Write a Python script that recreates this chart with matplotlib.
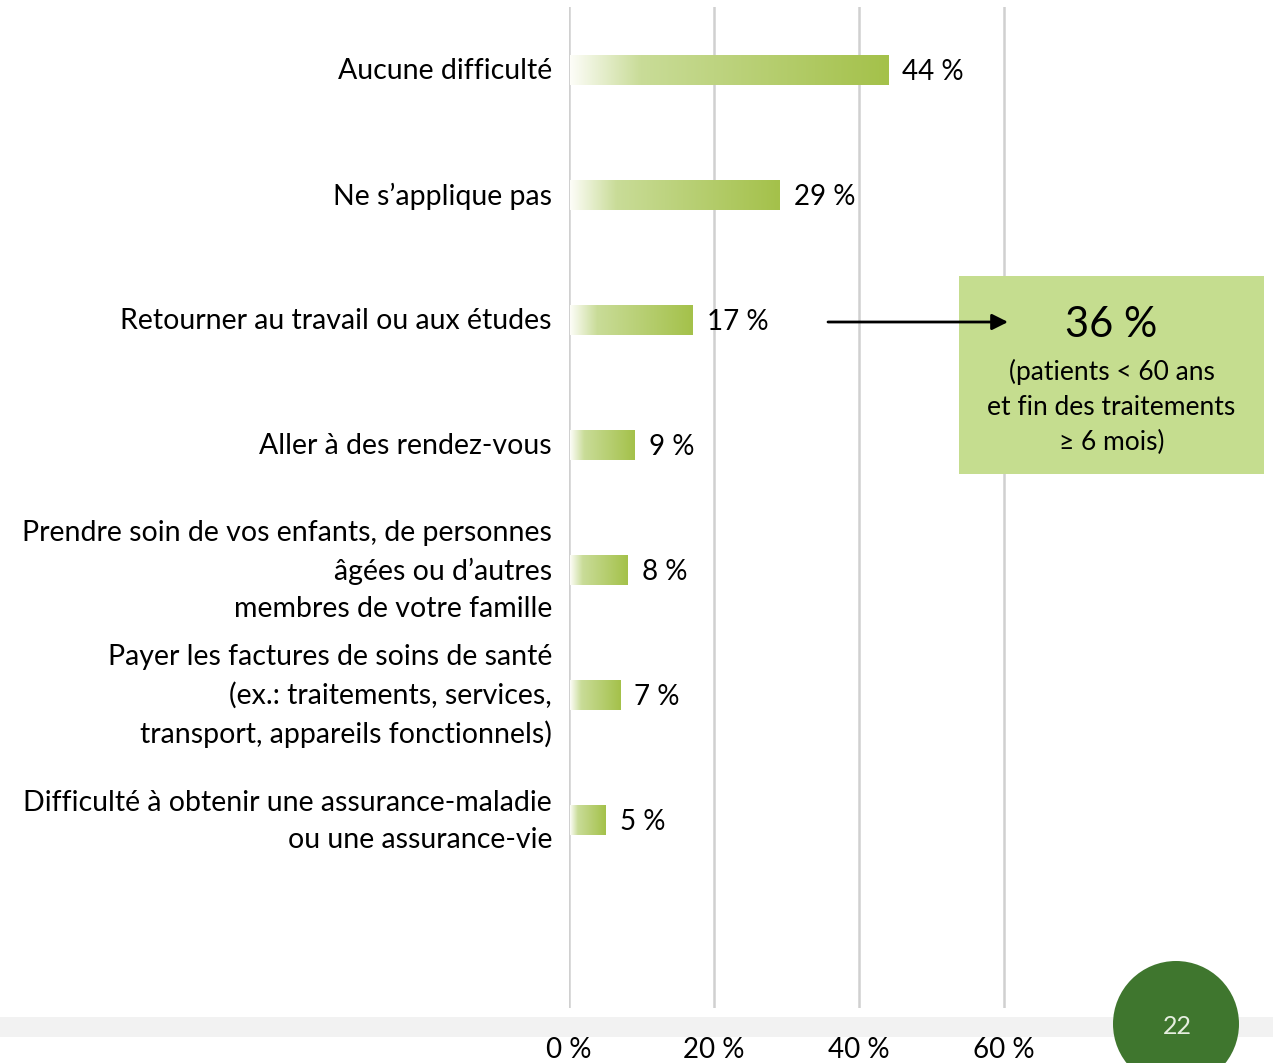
import numpy as np
import matplotlib
matplotlib.use("Agg")
import matplotlib.pyplot as plt
from matplotlib.colors import LinearSegmentedColormap
from matplotlib.patches import Rectangle, Ellipse

plt.rcParams['font.family'] = ['Lato', 'DejaVu Sans']

categories = [
    "Aucune difficulté",
    "Ne s’applique pas",
    "Retourner au travail ou aux études",
    "Aller à des rendez-vous",
    "Prendre soin de vos enfants, de personnes\nâgées ou d’autres\nmembres de votre famille",
    "Payer les factures de soins de santé\n(ex.: traitements, services,\ntransport, appareils fonctionnels)",
    "Difficulté à obtenir une assurance-maladie\nou une assurance-vie",
]
values = [44, 29, 17, 9, 8, 7, 5]
xticks = [0, 20, 40, 60]
xtick_labels = ["0 %", "20 %", "40 %", "60 %"]
callout_value = "36 %"
callout_text = "(patients < 60 ans\net fin des traitements\n≥ 6 mois)"
page_number = "22"

W, H = 1273, 1063
fig = plt.figure(figsize=(W / 100, H / 100), dpi=100)
fig.patch.set_facecolor("white")

# gray footer band
fig.patches.append(Rectangle((0, 1 - 1037 / H), 1, 20 / H, transform=fig.transFigure,
                             facecolor="#f2f2f2", edgecolor="none", zorder=0))

x0, ytop, ybot = 569, 7, 1008
ax = fig.add_axes([x0 / W, 1 - ybot / H, (W - x0) / W, (ybot - ytop) / H])
ax.patch.set_alpha(0)
px = 7.25  # pixels per percent
xmax = (W - x0) / px

cmap = LinearSegmentedColormap.from_list(
    "bar", [(0, "#fdfdf8"), (0.22, "#c9dc98"), (1, "#a4c14a")])
grad = np.linspace(0, 1, 256).reshape(1, -1)
h = 0.235
fs = 20.5
for i, v in enumerate(values):
    ax.imshow(grad, extent=(0.1, v, i + h / 2, i - h / 2), aspect="auto",
              cmap=cmap, zorder=2, interpolation="bilinear")
    ax.text(v + 2.0, i + 0.02, f"{v} %", va="center", ha="left", fontsize=20,
            color="black")
    ax.text(-17 / px, i + 0.01, categories[i], ha="right", va="center",
            multialignment="right", fontsize=fs, linespacing=1.53,
            color="black")

for t in xticks:
    ax.axvline(t, color="#d0d0d0", lw=1.8, zorder=1)

ax.set_xlim(0, xmax)
ax.set_ylim(7.504, -0.504)
ax.set_xticks(xticks)
ax.set_xticklabels(xtick_labels, fontsize=20)
ax.tick_params(axis="x", length=0, pad=21)
ax.set_yticks([])
for s in ax.spines.values():
    s.set_visible(False)

# callout box
bx0, bx1, by0, by1 = 959, 1264, 276, 474
ax.add_patch(Rectangle((bx0 / W, 1 - by1 / H), (bx1 - bx0) / W, (by1 - by0) / H,
                       transform=fig.transFigure, facecolor="#c5dd8f",
                       edgecolor="none", zorder=3, clip_on=False))
cx = (bx0 + bx1) / 2 / W
ax.text(cx, 1 - 325 / H, callout_value, ha="center", va="center", fontsize=30,
        transform=fig.transFigure, zorder=4)
ax.text(cx, 1 - 407 / H, callout_text, ha="center", va="center", fontsize=19,
        linespacing=1.48, transform=fig.transFigure, zorder=4)
ax.annotate("", xy=((1008 - x0) / px, 2.016), xytext=((828 - x0) / px, 2.016),
            arrowprops=dict(arrowstyle="-|>", color="black", lw=2,
                            mutation_scale=24, shrinkA=0, shrinkB=0),
            zorder=5, annotation_clip=False)

# page number circle
fig.patches.append(Ellipse((1176 / W, 1 - 1024 / H), 126 / W, 126 / H,
                           transform=fig.transFigure, facecolor="#3f762e",
                           edgecolor="none", zorder=6))
fig.text(1177 / W, 1 - 1026 / H, page_number, ha="center", va="center", fontsize=18,
         color="#e6eee0", zorder=7)

fig.savefig("out.png", dpi=100)
